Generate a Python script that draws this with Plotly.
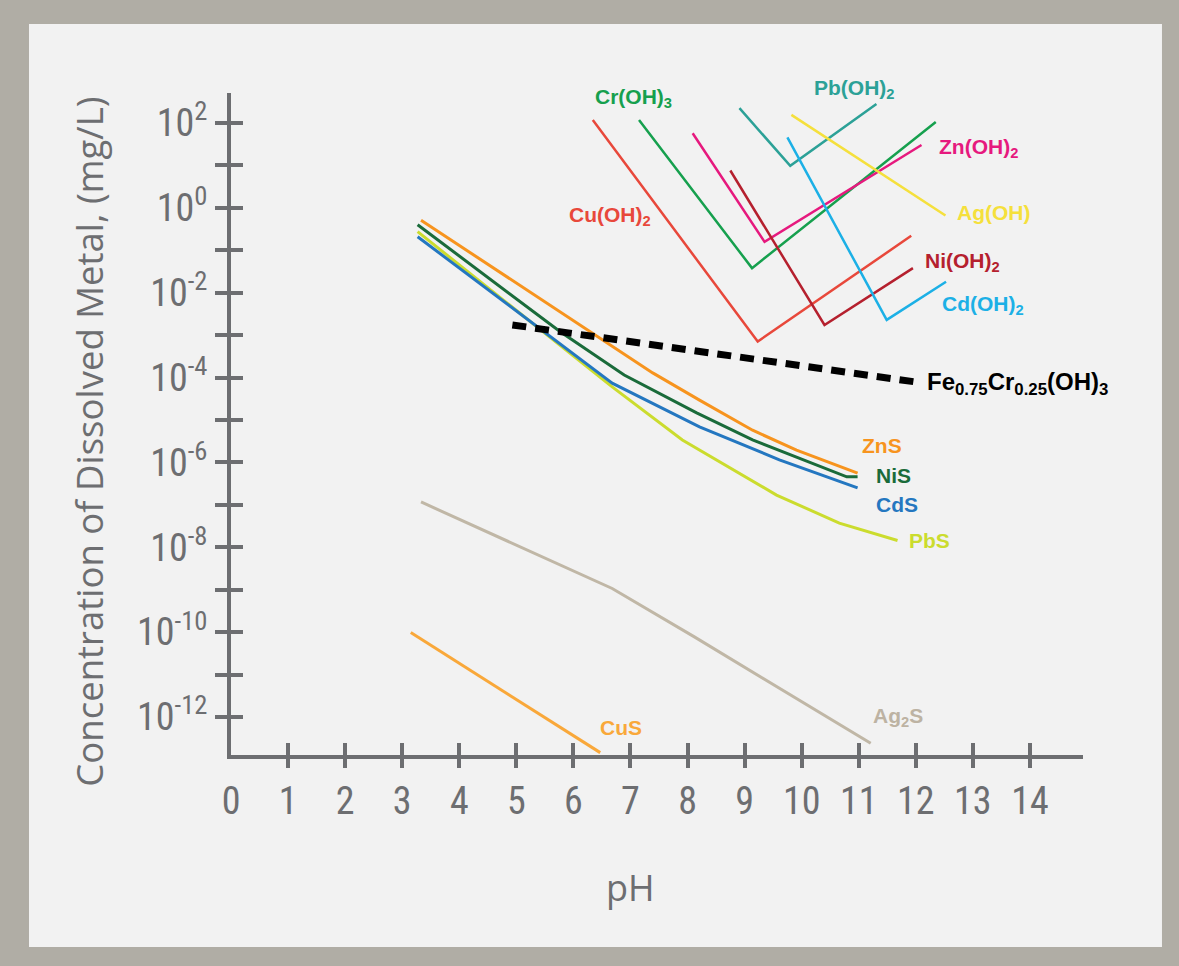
import plotly.graph_objects as go

# ---------------- data (pH, dissolved metal concentration in mg/L) ----------------
zns_ph = [3.33, 6.33, 7.39, 8.21, 9.14, 9.91, 10.98]
zns_c = [5.1e-1, 1.12e-3, 1.29e-4, 2.95e-5, 5.75e-6, 1.95e-6, 5.62e-7]

nis_ph = [3.27, 5.77, 6.89, 8.16, 9.14, 10.79, 10.98]
nis_c = [4.0e-1, 1.2e-3, 1.15e-4, 1.48e-5, 3.39e-6, 4.57e-7, 4.57e-7]

cds_ph = [3.27, 6.68, 8.21, 9.61, 10.98]
cds_c = [2.09e-1, 7.41e-5, 6.92e-6, 1.15e-6, 2.51e-7]

pbs_ph = [3.27, 6.68, 7.91, 9.56, 10.66, 11.68]
pbs_c = [2.75e-1, 6.03e-5, 3.39e-6, 1.70e-7, 3.72e-8, 1.45e-8]

ag2s_ph = [3.33, 6.68, 8.12, 11.21]
ag2s_c = [1.17e-7, 1.07e-9, 7.76e-11, 2.40e-13]

cus_ph = [3.15, 6.47]
cus_c = [9.8e-11, 1.45e-13]

fecr_ph = [4.93, 11.98]
fecr_c = [1.74e-3, 7.94e-5]

cuoh_ph = [6.34, 9.23, 11.92]
cuoh_c = [117, 7.08e-4, 2.19e-1]

croh_ph = [7.15, 9.13, 12.35]
croh_c = [117, 3.80e-2, 105]

znoh_ph = [8.09, 9.35, 12.10]
znoh_c = [57.5, 1.58e-1, 30.2]

nioh_ph = [8.75, 10.40, 11.95]
nioh_c = [7.59, 1.74e-3, 3.80e-2]

pboh_ph = [8.91, 9.80, 11.31]
pboh_c = [224, 9.77, 282]

cdoh_ph = [9.75, 11.49, 12.53]
cdoh_c = [45.7, 2.29e-3, 1.82e-2]

agoh_ph = [9.82, 12.52]
agoh_c = [155, 6.61e-1]

x_labels = list(range(0, 15))
x_tickmarks = list(range(1, 15))
y_major = [10.0 ** e for e in range(-12, 3, 2)]
y_major_text = ["10<sup>%d</sup>" % e for e in range(-12, 3, 2)]
y_minor = [10.0 ** e for e in range(-11, 2, 2)]

# ---------------- styling ----------------
AXIS = "#6d6e71"
FRAME = "#b0ada5"
PANEL = "#f2f2f2"
TICKFONT = "Liberation Sans Narrow, Roboto Condensed, DejaVu Sans Condensed, Roboto, sans-serif"
LABELFONT = "Liberation Sans, Arial, sans-serif"
TITLEFONT = "Open Sans, Lato, Roboto, sans-serif"

series = [
    (cus_ph, cus_c, "#f9a83a", 3, None),
    (ag2s_ph, ag2s_c, "#c0b7a6", 3, None),
    (pbs_ph, pbs_c, "#cbdc2e", 3, None),
    (cds_ph, cds_c, "#2477c0", 3, None),
    (nis_ph, nis_c, "#1a6b3a", 3, None),
    (zns_ph, zns_c, "#f7941e", 3, None),
    (cuoh_ph, cuoh_c, "#e8483b", 2.5, None),
    (croh_ph, croh_c, "#16a04e", 2.5, None),
    (znoh_ph, znoh_c, "#e6197e", 2.5, None),
    (nioh_ph, nioh_c, "#b5202e", 2.5, None),
    (pboh_ph, pboh_c, "#2ca197", 2.5, None),
    (cdoh_ph, cdoh_c, "#1cb0e6", 2.5, None),
    (agoh_ph, agoh_c, "#f5e03c", 2.5, None),
    (fecr_ph, fecr_c, "#000000", 7, "14px,9px"),
]

fig = go.Figure()
for xs, ys, col, w, dash in series:
    line = dict(color=col, width=w)
    if dash:
        line["dash"] = dash
    fig.add_trace(go.Scatter(x=xs, y=ys, mode="lines", line=line,
                             showlegend=False, hoverinfo="skip"))

# helper traces so the overlay axes (tick halves) get drawn
fig.add_trace(go.Scatter(x=[None], y=[None], xaxis="x2", yaxis="y2",
                         showlegend=False, hoverinfo="skip"))
fig.add_trace(go.Scatter(x=[None], y=[None], xaxis="x3", yaxis="y2",
                         showlegend=False, hoverinfo="skip"))

XR = [0, 14.93]
YR = [-12.895, 2.707]
tick_style = dict(ticklen=12, tickwidth=4, tickcolor=AXIS)

fig.update_layout(
    width=1179, height=966,
    margin=dict(l=231, r=96, t=93, b=211),
    paper_bgcolor=FRAME, plot_bgcolor=PANEL,
    hovermode=False,
    xaxis=dict(range=XR, tickvals=x_labels, ticktext=[str(v) for v in x_labels],
               ticks="", showline=True, linewidth=4, linecolor=AXIS,
               showgrid=False, zeroline=False, ticklabelstandoff=9,
               tickfont=dict(family=TICKFONT, size=38, color=AXIS)),
    yaxis=dict(type="log", range=YR, tickvals=y_major, ticktext=y_major_text,
               ticks="outside", **tick_style,
               minor=dict(tickvals=y_minor, ticks="outside", **tick_style),
               showline=True, linewidth=4, linecolor=AXIS,
               showgrid=False, zeroline=False,
               tickfont=dict(family=TICKFONT, size=38, color=AXIS)),
    xaxis2=dict(overlaying="x", anchor="y2", range=XR, tickvals=x_tickmarks,
                ticks="inside", **tick_style,
                showticklabels=False, showline=False, showgrid=False, zeroline=False),
    xaxis3=dict(overlaying="x", anchor="y2", range=XR, tickvals=x_tickmarks,
                ticks="outside", **tick_style,
                showticklabels=False, showline=False, showgrid=False, zeroline=False),
    yaxis2=dict(overlaying="y", anchor="x2", type="log", range=YR, tickvals=y_major,
                ticks="inside", **tick_style,
                minor=dict(tickvals=y_minor, ticks="inside", **tick_style),
                showticklabels=False, showline=False, showgrid=False, zeroline=False),
    shapes=[dict(type="rect", xref="paper", yref="paper", x0=-0.2371, x1=1.0927,
                 y0=-0.2900, y1=1.1042, fillcolor=PANEL, line=dict(width=0), layer="below")],
)

# curve labels: (text, colour, pH, log10 y, size)
labels = [
    ("Cr(OH)<sub>3</sub>", "#16a04e", 6.34, 2.58, 21),
    ("Cu(OH)<sub>2</sub>", "#e8483b", 5.89, -0.19, 21),
    ("Zn(OH)<sub>2</sub>", "#e6197e", 12.37, 1.41, 21),
    ("Ag(OH)", "#f5e03c", 12.68, -0.12, 21),
    ("Ni(OH)<sub>2</sub>", "#b5202e", 12.12, -1.28, 21),
    ("Cd(OH)<sub>2</sub>", "#1cb0e6", 12.42, -2.29, 21),
    ("Fe<sub>0.75</sub>Cr<sub>0.25</sub>(OH)<sub>3</sub>", "#000000", 12.16, -4.13, 24),
    ("ZnS", "#f7941e", 11.02, -5.61, 21),
    ("NiS", "#1a6b3a", 11.26, -6.30, 21),
    ("CdS", "#2477c0", 11.26, -6.98, 21),
    ("PbS", "#cbdc2e", 11.84, -7.85, 21),
    ("CuS", "#f9a83a", 6.43, -12.24, 21),
    ("Ag<sub>2</sub>S", "#bdb3a3", 11.21, -12.0, 21),
]
ann = []
for txt, col, xv, yv, sz in labels:
    ann.append(dict(text="<b>%s</b>" % txt, x=xv, y=yv, xref="x", yref="y",
                    xanchor="left", yanchor="middle", showarrow=False,
                    font=dict(family=LABELFONT, size=sz, color=col)))
# Pb(OH)2 label sits above the axis range -> paper y
ann.append(dict(text="<b>Pb(OH)<sub>2</sub></b>", x=10.18, y=1.006, xref="x", yref="paper",
                xanchor="left", yanchor="middle", showarrow=False,
                font=dict(family=LABELFONT, size=21, color="#2ca197")))
# axis titles
ann.append(dict(text="pH", x=7.0, y=-0.1995, xref="x", yref="paper", showarrow=False,
                xanchor="center", yanchor="middle",
                font=dict(family=TITLEFONT, size=36, color=AXIS)))
ann.append(dict(text="Concentration of Dissolved Metal, (mg/L)", x=-0.166, y=-5.52,
                xref="paper", yref="y", showarrow=False, textangle=-90,
                xanchor="center", yanchor="middle",
                font=dict(family=TITLEFONT, size=36.5, color=AXIS)))
fig.update_layout(annotations=ann)

fig.write_html(
    "out.html",
    config={"displayModeBar": False},
    post_script="document.body.style.margin='0px';document.body.style.overflow='hidden';"
                "document.body.style.backgroundColor='#b0ada5';",
)
